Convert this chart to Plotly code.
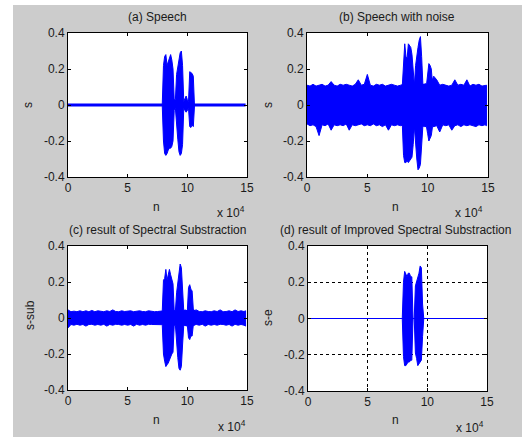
import plotly.graph_objects as go

# ---------------- data (sample index n, amplitude envelopes) ----------------
noise_n = list(range(0, 150000, 2500)) + [148800]           # 61 points
speech_n = list(range(79000, 107000, 1000))                  # 28 points
base_n = [0, 148800]
base_s = [0, 0]

# (a) Speech: envelope of the speech bursts
a_up = [0.006, 0.22, 0.27, 0.28, 0.22, 0.24, 0.27, 0.28, 0.25, 0.20,
        0.03, 0.03, 0.17, 0.21, 0.26, 0.29, 0.30, 0.22, 0.02, 0.04,
        0.05, 0.03, 0.02, 0.185, 0.18, 0.175, 0.16, 0.006]
a_lo = [-0.006, -0.20, -0.27, -0.28, -0.27, -0.25, -0.24, -0.24, -0.23, -0.20,
        -0.03, -0.02, -0.12, -0.19, -0.26, -0.28, -0.27, -0.22, -0.02, -0.03,
        -0.04, -0.03, -0.02, -0.12, -0.125, -0.11, -0.12, -0.006]

# (b) Speech with noise
b_noise_up = [0.11, 0.105, 0.115, 0.105, 0.11, 0.115, 0.105, 0.11, 0.13, 0.11,
              0.105, 0.115, 0.11, 0.115, 0.11, 0.105, 0.115, 0.14, 0.11, 0.115,
              0.17, 0.11, 0.105, 0.115, 0.11, 0.115, 0.105, 0.11, 0.115, 0.11,
              0.105, 0.11, 0.115, 0.11, 0.115, 0.115, 0.11, 0.13, 0.115, 0.115,
              0.11, 0.115, 0.16, 0.14, 0.11, 0.115, 0.11, 0.105, 0.11, 0.14,
              0.11, 0.115, 0.11, 0.14, 0.105, 0.115, 0.11, 0.115, 0.105, 0.11,
              0.11]
b_noise_lo = [-0.105, -0.115, -0.11, -0.12, -0.17, -0.11, -0.115, -0.105, -0.14, -0.11,
              -0.115, -0.11, -0.115, -0.105, -0.14, -0.11, -0.115, -0.11, -0.105, -0.115,
              -0.11, -0.115, -0.105, -0.115, -0.11, -0.12, -0.11, -0.14, -0.11, -0.115,
              -0.11, -0.115, -0.11, -0.115, -0.115, -0.11, -0.115, -0.11, -0.115, -0.12,
              -0.115, -0.11, -0.12, -0.115, -0.15, -0.11, -0.115, -0.11, -0.14, -0.115,
              -0.11, -0.12, -0.11, -0.115, -0.11, -0.115, -0.12, -0.11, -0.115, -0.11,
              -0.115]
b_up = [0.11, 0.26, 0.34, 0.27, 0.26, 0.34, 0.33, 0.32, 0.28, 0.20,
        0.11, 0.22, 0.28, 0.32, 0.36, 0.38, 0.27, 0.12, 0.11, 0.12,
        0.11, 0.18, 0.23, 0.22, 0.20, 0.12, 0.11, 0.12]
b_lo = [-0.11, -0.28, -0.32, -0.32, -0.31, -0.32, -0.31, -0.30, -0.29, -0.22,
        -0.12, -0.20, -0.30, -0.36, -0.35, -0.33, -0.26, -0.12, -0.11, -0.12,
        -0.12, -0.16, -0.20, -0.19, -0.17, -0.12, -0.12, -0.11]

# (c) result of Spectral Substraction
c_noise_up = [0.045, 0.035, 0.038, 0.035, 0.04, 0.035, 0.04, 0.035, 0.042, 0.035,
              0.04, 0.036, 0.035, 0.04, 0.036, 0.045, 0.036, 0.035, 0.04, 0.036,
              0.036, 0.04, 0.035, 0.036, 0.04, 0.036, 0.035, 0.04, 0.036, 0.035,
              0.036, 0.04, 0.04, 0.04, 0.04, 0.04, 0.04, 0.04, 0.04, 0.04,
              0.04, 0.04, 0.04, 0.045, 0.036, 0.035, 0.04, 0.036, 0.035, 0.04,
              0.036, 0.045, 0.035, 0.036, 0.04, 0.035, 0.045, 0.036, 0.04, 0.036,
              0.04]
c_noise_lo = [-0.055, -0.036, -0.04, -0.035, -0.04, -0.036, -0.045, -0.036, -0.035, -0.04,
              -0.036, -0.04, -0.035, -0.045, -0.036, -0.04, -0.035, -0.036, -0.04, -0.036,
              -0.04, -0.036, -0.045, -0.035, -0.04, -0.036, -0.04, -0.035, -0.036, -0.04,
              -0.036, -0.04, -0.04, -0.04, -0.04, -0.04, -0.04, -0.04, -0.04, -0.04,
              -0.04, -0.036, -0.04, -0.036, -0.04, -0.035, -0.045, -0.036, -0.04, -0.036,
              -0.04, -0.035, -0.036, -0.04, -0.036, -0.045, -0.035, -0.04, -0.036, -0.04,
              -0.045]
c_up = [0.04, 0.21, 0.22, 0.27, 0.21, 0.25, 0.27, 0.24, 0.21, 0.19,
        0.04, 0.04, 0.14, 0.20, 0.25, 0.30, 0.28, 0.16, 0.04, 0.045,
        0.04, 0.04, 0.17, 0.185, 0.16, 0.15, 0.05, 0.04]
c_lo = [-0.04, -0.20, -0.24, -0.27, -0.26, -0.25, -0.24, -0.22, -0.20, -0.19,
        -0.04, -0.04, -0.15, -0.22, -0.28, -0.29, -0.27, -0.15, -0.04, -0.04,
        -0.045, -0.04, -0.11, -0.12, -0.10, -0.10, -0.04, -0.04]

# (d) result of Improved Spectral Substraction
d_up = [0.0, 0.20, 0.26, 0.24, 0.23, 0.25, 0.25, 0.23, 0.23, 0.0,
        0.0, 0.18, 0.20, 0.22, 0.25, 0.29, 0.28, 0.08, 0.0, 0.0,
        0.0, 0.0, 0.0, 0.0, 0.0, 0.0, 0.0, 0.0]
d_lo = [0.0, -0.21, -0.26, -0.26, -0.25, -0.24, -0.24, -0.23, -0.23, 0.0,
        0.0, -0.19, -0.22, -0.26, -0.25, -0.24, -0.23, -0.10, 0.0, 0.0,
        0.0, 0.0, 0.0, 0.0, 0.0, 0.0, 0.0, 0.0]

x_tickvals = [0, 50000, 100000, 150000]
x_ticktext = ["0", "5", "10", "15"]
y_tickvals = [-0.4, -0.2, 0, 0.2, 0.4]
y_ticktext = ["-0.4", "-0.2", "0", "0.2", "0.4"]

titles = ["(a) Speech", "(b) Speech with noise",
          "(c) result of Spectral Substraction",
          "(d) result of Improved Spectral Substraction"]
ylabels = ["s", "s", "s-sub", "s-e"]

# ---------------- figure ----------------
W, H = 522, 437
BLUE = "#0000ff"
FONT = "Liberation Sans, Arial, sans-serif"

def fx(p):
    return p / W

def fy(p):
    return 1 - p / H

fig = go.Figure()

def band(n, up, lo, ax):
    fig.add_trace(go.Scatter(
        x=list(n) + list(n)[::-1], y=list(up) + list(lo)[::-1],
        mode="lines", fill="toself", fillcolor=BLUE,
        line=dict(color=BLUE, width=1), hoverinfo="skip",
        xaxis="x" + ax, yaxis="y" + ax, showlegend=False))

def baseline(width, ax, color=BLUE):
    fig.add_trace(go.Scatter(
        x=base_n, y=base_s, mode="lines", line=dict(color=color, width=width),
        xaxis="x" + ax, yaxis="y" + ax, showlegend=False, hoverinfo="skip"))

# (a)
baseline(3, "")
band(speech_n, a_up, a_lo, "")
# (b)
band(noise_n, b_noise_up, b_noise_lo, "2")
band(speech_n, b_up, b_lo, "2")
# (c)
band(noise_n, c_noise_up, c_noise_lo, "3")
band(speech_n, c_up, c_lo, "3")
# (d)
baseline(1, "4")
band(speech_n, d_up, d_lo, "4")

domains = [
    ((68, 247), (33, 177)),
    ((307, 488), (33, 177)),
    ((68, 247), (246, 390)),
    ((308, 487), (246, 391)),
]

tickfont = dict(family=FONT, size=12, color="#1a1a1a")
layout = dict(
    width=W, height=H, autosize=False,
    margin=dict(l=0, r=0, t=0, b=0, pad=0, autoexpand=False),
    paper_bgcolor="#cccccc", plot_bgcolor="white",
    showlegend=False,
)
for i, ((x0, x1), (y0, y1)) in enumerate(domains):
    sfx = "" if i == 0 else str(i + 1)
    grid = (i == 3)
    common = dict(
        ticks="inside", ticklen=3, tickcolor="black", showline=True,
        linecolor="black", linewidth=1, mirror="allticks", zeroline=False,
        showgrid=grid, gridcolor="black", griddash="3px,3px", gridwidth=1,
        tickfont=tickfont, fixedrange=True, automargin=False)
    layout["xaxis" + sfx] = dict(
        domain=[fx(x0), fx(x1)], range=[0, 150000], anchor="y" + sfx,
        tickvals=x_tickvals, ticktext=x_ticktext, **common)
    layout["yaxis" + sfx] = dict(
        domain=[fy(y1), fy(y0)], range=[-0.4, 0.4], anchor="x" + sfx,
        tickvals=y_tickvals, ticktext=y_ticktext, **common)
fig.update_layout(**layout)

# white strips outside the gray figure window
fig.add_shape(type="rect", xref="paper", yref="paper", x0=0, x1=fx(13), y0=0, y1=1,
              fillcolor="white", line_width=0, layer="below")
fig.add_shape(type="rect", xref="paper", yref="paper", x0=0, x1=1, y0=fy(5), y1=1,
              fillcolor="white", line_width=0, layer="below")

txt = dict(family=FONT, size=12, color="#1a1a1a")
title_pos = [(157, 17), (397, 17), (157, 230), (395, 230)]
ylab_pos = [(28, 105), (268, 105), (30, 315), (268, 318)]
xlab_pos = [(156, 207), (395, 207), (156, 420), (395, 420)]
exp_pos = [(231, 212), (469, 212), (232, 426), (470, 427)]
for i in range(4):
    fig.add_annotation(x=fx(title_pos[i][0]), y=fy(title_pos[i][1]), xref="paper", yref="paper",
                       text=titles[i], showarrow=False, font=txt, xanchor="center", yanchor="middle")
    fig.add_annotation(x=fx(ylab_pos[i][0]), y=fy(ylab_pos[i][1]), xref="paper", yref="paper",
                       text=ylabels[i], showarrow=False, font=txt, textangle=-90,
                       xanchor="center", yanchor="middle")
    fig.add_annotation(x=fx(xlab_pos[i][0]), y=fy(xlab_pos[i][1]), xref="paper", yref="paper",
                       text="n", showarrow=False, font=txt, xanchor="center", yanchor="middle")
    fig.add_annotation(x=fx(exp_pos[i][0]), y=fy(exp_pos[i][1]), xref="paper", yref="paper",
                       text="x 10<sup>4</sup>", showarrow=False, font=txt,
                       xanchor="center", yanchor="middle")

fig.write_html(
    "out.html",
    config={"displayModeBar": False, "staticPlot": True},
    post_script="document.body.style.margin='0';",
)
